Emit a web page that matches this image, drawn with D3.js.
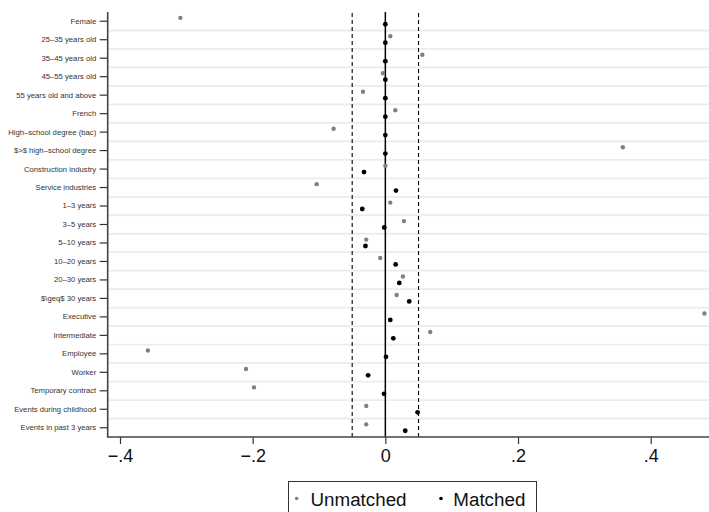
<!DOCTYPE html>
<html>
<head>
<meta charset="utf-8">
<script src="https://cdn.jsdelivr.net/npm/d3@7"></script>
<style>
  html, body { margin: 0; padding: 0; background: #fff; }
  svg { display: block; font-family: "Liberation Sans", Arial, Helvetica, sans-serif; }
</style>
</head>
<body>
<svg id="chart" width="709" height="512"></svg>
<script>
// Covariate balance: standardized differences before and after matching
const categories = [
  "Female",
  "25–35 years old",
  "35–45 years old",
  "45–55 years old",
  "55 years old and above",
  "French",
  "High–school degree (bac)",
  "$>$ high–school degree",
  "Construction industry",
  "Service industries",
  "1–3 years",
  "3–5 years",
  "5–10 years",
  "10–20 years",
  "20–30 years",
  "$\\geq$ 30 years",
  "Executive",
  "Intermediate",
  "Employee",
  "Worker",
  "Temporary contract",
  "Events during childhood",
  "Events in past 3 years"
];

const unmatched = [
  -0.309, 0.0074, 0.0557, -0.0036, -0.0337, 0.0150, -0.078, 0.358,
  0.000, -0.1035, 0.0074, 0.028, -0.0288, -0.0077, 0.0265, 0.017,
  0.481, 0.0677, -0.358, -0.210, -0.198, -0.0288, -0.0288
];

const matched = [
  0.000, 0.000, 0.000, 0.000, 0.000, 0.000, 0.000, 0.000,
  -0.0322, 0.016, -0.0348, -0.0016, -0.030, 0.0155, 0.021, 0.036,
  0.0074, 0.012, 0.001, -0.026, -0.002, 0.0486, 0.030
];

const xTicks = [-0.4, -0.2, 0, 0.2, 0.4];
const thresholds = [-0.05, 0.05];
const seriesNames = ["Unmatched", "Matched"];

const svg = d3.select("#chart");
const W = 709, H = 512;
const plotLeft = 107.7, plotTop = 12, plotBottom = 437, plotRight = 760;

const x = d3.scaleLinear().domain([-0.4, 0.4]).range([120, 650.7]);
const y = d3.scaleBand().domain(categories).range([plotTop, plotBottom]).paddingInner(0).paddingOuter(0);
const rowMid = c => y(c) + y.bandwidth() / 2;

const fmt = v => v === 0 ? "0" : (v < 0 ? "\u2212" : "") + String(Math.abs(v)).replace(/^0/, "");

// horizontal grid lines between rows
svg.append("g")
  .selectAll("line")
  .data(categories.slice(1))
  .join("line")
  .attr("x1", plotLeft + 1).attr("x2", plotRight)
  .attr("y1", d => y(d)).attr("y2", d => y(d))
  .attr("stroke", "#e6eef1")
  .attr("stroke-width", 1.8);

// tolerance band at +/- 0.05
svg.append("g")
  .selectAll("line")
  .data(thresholds)
  .join("line")
  .attr("x1", d => x(d)).attr("x2", d => x(d))
  .attr("y1", plotTop + 1).attr("y2", plotBottom)
  .attr("stroke", "#000")
  .attr("stroke-width", 1.1)
  .attr("stroke-dasharray", "4,3");

// zero reference line
svg.append("line")
  .attr("x1", x(0)).attr("x2", x(0))
  .attr("y1", plotTop).attr("y2", plotBottom)
  .attr("stroke", "#000")
  .attr("stroke-width", 1.5);

// y axis
const yAxis = svg.append("g")
  .attr("transform", `translate(${plotLeft},0)`)
  .call(d3.axisLeft(y).tickSize(8).tickPadding(3.5));
yAxis.select(".domain").remove();
yAxis.selectAll(".tick line").attr("stroke", "#333").attr("stroke-width", 1.2);
yAxis.selectAll(".tick text")
  .attr("font-size", 7.7)
  .attr("fill", "#333")
  .attr("font-family", "Liberation Sans, Arial, sans-serif");

// x axis
const xAxis = svg.append("g")
  .attr("transform", `translate(0,${plotBottom})`)
  .call(d3.axisBottom(x).tickValues(xTicks).tickFormat(fmt).tickSize(7).tickPadding(5.5));
xAxis.select(".domain").remove();
xAxis.selectAll(".tick line").attr("stroke", "#333").attr("stroke-width", 1.2);
xAxis.selectAll(".tick text")
  .attr("font-size", 18)
  .attr("fill", "#111")
  .attr("font-family", "Liberation Sans, Arial, sans-serif");

// axis lines
svg.append("line")
  .attr("x1", plotLeft).attr("x2", plotLeft)
  .attr("y1", plotTop).attr("y2", plotBottom + 0.8)
  .attr("stroke", "#444").attr("stroke-width", 1.6);
svg.append("line")
  .attr("x1", plotLeft).attr("x2", plotRight)
  .attr("y1", plotBottom).attr("y2", plotBottom)
  .attr("stroke", "#444").attr("stroke-width", 1.6);

// markers
svg.append("g")
  .selectAll("circle")
  .data(categories.map((c, i) => ({ c, v: unmatched[i] })))
  .join("circle")
  .attr("cx", d => x(d.v))
  .attr("cy", d => rowMid(d.c) - 3.4)
  .attr("r", 2.2)
  .attr("fill", "#808080");

svg.append("g")
  .selectAll("circle")
  .data(categories.map((c, i) => ({ c, v: matched[i] })))
  .join("circle")
  .attr("cx", d => x(d.v))
  .attr("cy", d => rowMid(d.c) + 3)
  .attr("r", 2.4)
  .attr("fill", "#000");

// legend
const legend = svg.append("g");
legend.append("rect")
  .attr("x", 288.5).attr("y", 481.5)
  .attr("width", 248).attr("height", 40)
  .attr("fill", "#fff")
  .attr("stroke", "#333").attr("stroke-width", 1);
const legendItems = [
  { name: seriesNames[0], color: "#808080", cx: 296.7, tx: 310.5 },
  { name: seriesNames[1], color: "#000", cx: 441, tx: 453.3 }
];
legendItems.forEach(it => {
  legend.append("circle").attr("cx", it.cx).attr("cy", 498.5).attr("r", 1.8).attr("fill", it.color);
  legend.append("text")
    .attr("x", it.tx).attr("y", 505.5)
    .attr("font-size", 18.8)
    .attr("fill", "#111")
    .text(it.name);
});
</script>
</body>
</html>
